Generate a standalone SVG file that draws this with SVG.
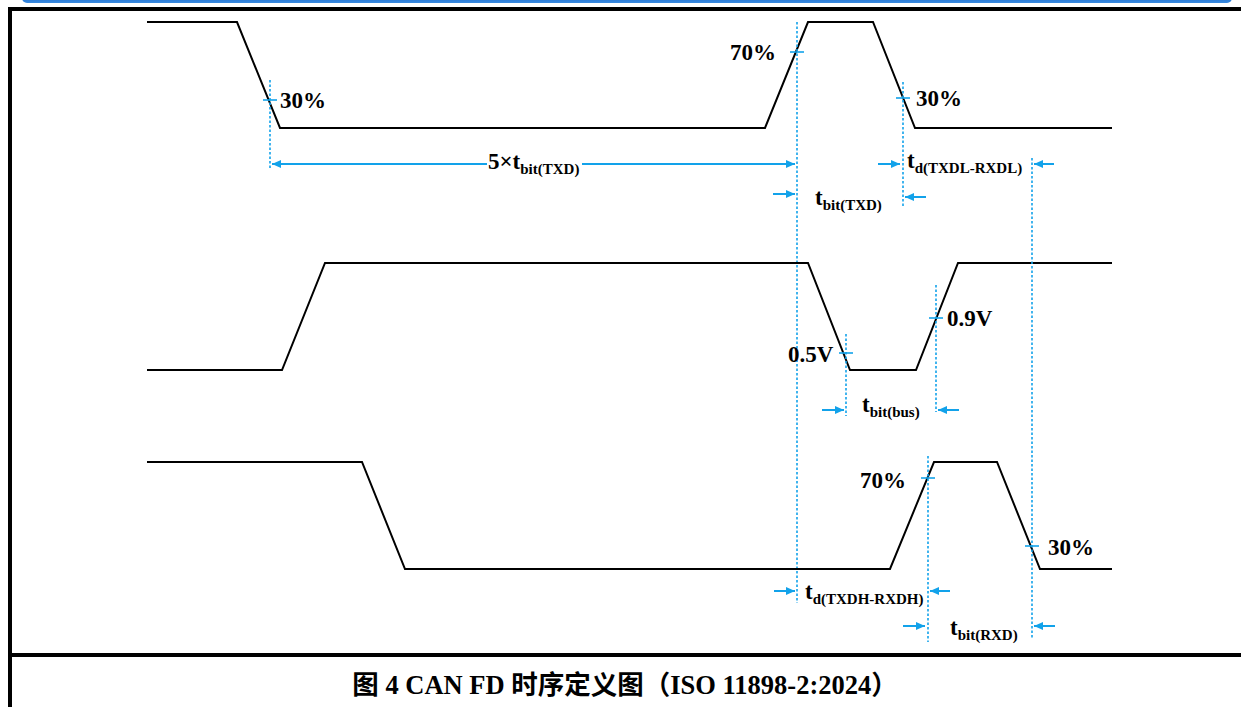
<svg xmlns="http://www.w3.org/2000/svg" width="1241" height="707" viewBox="0 0 1241 707">
<defs>
<linearGradient id="bar" x1="0" y1="0" x2="0" y2="1">
<stop offset="0" stop-color="#0b57c0"/>
<stop offset="1" stop-color="#3a8be0"/>
</linearGradient>
<marker id="ah" markerUnits="userSpaceOnUse" markerWidth="9" markerHeight="8" refX="9" refY="4" orient="auto">
<path d="M0,0 L9,4 L0,8 z" fill="#12a2ea"/>
</marker>
</defs>
<style>
.frame{stroke:#000;stroke-width:4;fill:none}
.wave{stroke:#000;stroke-width:2;fill:none;stroke-linejoin:miter}
.dot{stroke:#12a2ea;stroke-width:1.6;stroke-dasharray:2.5,2;fill:none}
.tick{stroke:#12a2ea;stroke-width:1.6}
.dim{stroke:#12a2ea;stroke-width:2;fill:none;marker-end:url(#ah)}
.lbl{font-family:"Liberation Serif","Times New Roman",serif;font-weight:bold;font-size:23px;fill:#000}
.sub{font-size:15px}
.cap{font-family:"Liberation Serif","Noto Sans CJK SC",serif;font-weight:bold;font-size:26.5px;fill:#000}
</style>
<rect width="1241" height="707" fill="#fff"/>
<g id="frame">
<rect x="22" y="-8" width="1210" height="11" rx="5" fill="url(#bar)"/>
<path class="frame" d="M10,707 V9 H1241"/>
<path class="frame" d="M10,655 H1241"/>
</g>
<g id="signal-txd">
<path class="wave" d="M147,22 H237 L280,128 H765 L808,22 H873 L915,128 H1112"/>
<line class="dot" x1="270" y1="80" x2="270" y2="168"/>
<line class="tick" x1="263" y1="100" x2="277" y2="100"/>
<text class="lbl" x="280" y="108">30%</text>
<line class="dot" x1="797" y1="22" x2="797" y2="603"/>
<line class="tick" x1="790" y1="52" x2="804" y2="52"/>
<text class="lbl" x="730" y="60">70%</text>
<line class="dot" x1="903" y1="82" x2="903" y2="206"/>
<line class="tick" x1="896" y1="98" x2="910" y2="98"/>
<text class="lbl" x="916" y="106">30%</text>
</g>
<g id="signal-bus">
<path class="wave" d="M147,370 H282 L325,263 H808 L850,370 H916 L958,263 H1112"/>
<line class="dot" x1="846" y1="334" x2="846" y2="416"/>
<line class="tick" x1="839" y1="353" x2="853" y2="353"/>
<text class="lbl" x="788" y="362">0.5V</text>
<line class="dot" x1="936" y1="285" x2="936" y2="412"/>
<line class="tick" x1="929" y1="318" x2="943" y2="318"/>
<text class="lbl" x="947" y="326">0.9V</text>
</g>
<g id="signal-rxd">
<path class="wave" d="M147,462 H362 L405,569 H890 L934,462 H997 L1040,569 H1112"/>
<line class="dot" x1="928" y1="456" x2="928" y2="642"/>
<line class="tick" x1="921" y1="478" x2="935" y2="478"/>
<text class="lbl" x="860" y="488">70%</text>
<line class="dot" x1="1032" y1="158" x2="1032" y2="638"/>
<line class="tick" x1="1025" y1="546" x2="1039" y2="546"/>
<text class="lbl" x="1048" y="555">30%</text>
</g>
<g id="connectors">
<line class="dim" x1="487" y1="164" x2="272" y2="164"/>
<line class="dim" x1="582" y1="164" x2="795" y2="164"/>
<line class="dim" x1="773" y1="194" x2="795" y2="194"/>
<line class="dim" x1="926" y1="197" x2="905" y2="197"/>
<line class="dim" x1="878" y1="164" x2="900" y2="164"/>
<line class="dim" x1="1054" y1="164" x2="1034" y2="164"/>
<line class="dim" x1="822" y1="410" x2="844" y2="410"/>
<line class="dim" x1="959" y1="410" x2="938" y2="410"/>
<line class="dim" x1="774" y1="591" x2="795" y2="591"/>
<line class="dim" x1="950" y1="591" x2="930" y2="591"/>
<line class="dim" x1="903" y1="626" x2="925" y2="626"/>
<line class="dim" x1="1055" y1="626" x2="1034" y2="626"/>
</g>
<g id="labels">
<text class="lbl" x="488" y="169">5×t<tspan class="sub" dy="5">bit(TXD)</tspan></text>
<text class="lbl" x="815" y="205">t<tspan class="sub" dy="5">bit(TXD)</tspan></text>
<text class="lbl" x="907" y="168">t<tspan class="sub" dy="5">d(TXDL-RXDL)</tspan></text>
<text class="lbl" x="862" y="412">t<tspan class="sub" dy="5">bit(bus)</tspan></text>
<text class="lbl" x="805" y="599">t<tspan class="sub" dy="5">d(TXDH-RXDH)</tspan></text>
<text class="lbl" x="950" y="635">t<tspan class="sub" dy="5">bit(RXD)</tspan></text>
</g>
<g id="caption">
<text class="cap" x="625" y="694" text-anchor="middle">图 4 CAN FD 时序定义图（ISO 11898-2:2024）</text>
</g>
</svg>
